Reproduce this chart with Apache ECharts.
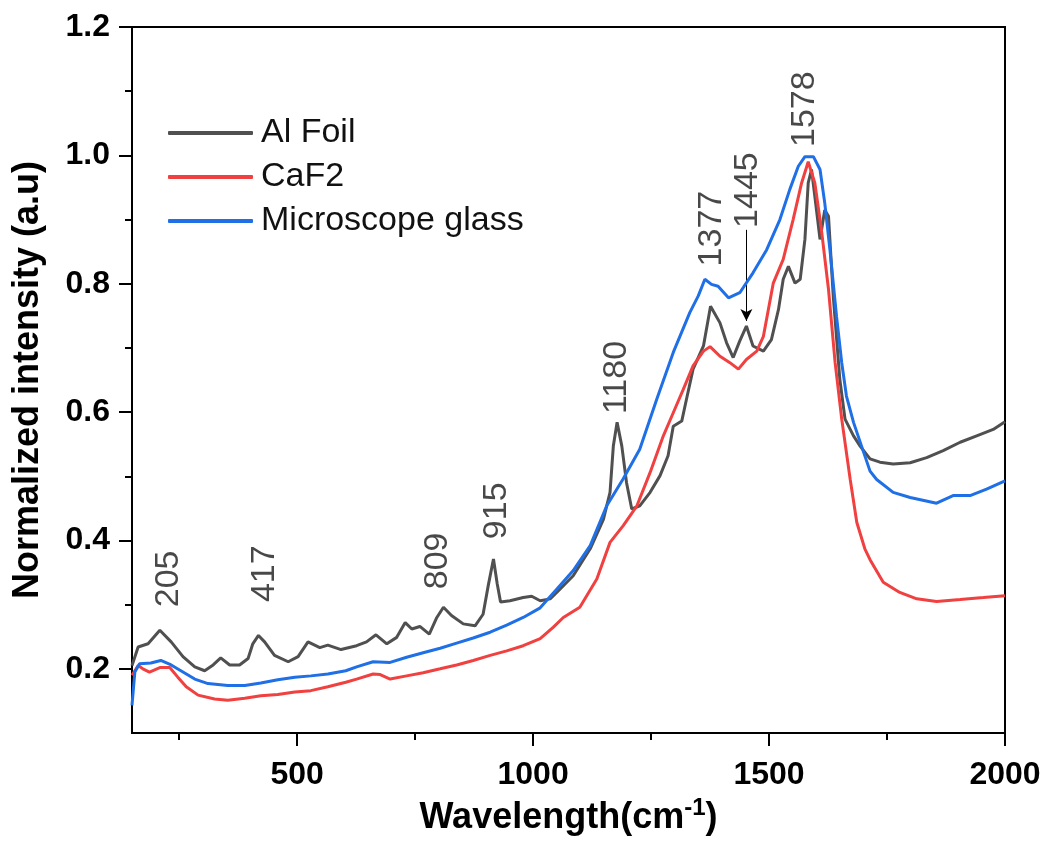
<!DOCTYPE html>
<html>
<head>
<meta charset="utf-8">
<title>Raman spectra</title>
<script src="https://cdn.jsdelivr.net/npm/echarts@6/dist/echarts.min.js"></script>
<style>
  html, body { margin: 0; padding: 0; background: #fff; }
  #chart { width: 1052px; height: 849px; }
</style>
</head>
<body>
<div id="chart"></div>
<script>
// values
var alFoilX = [150,163,184,209,233,258,283,304,322,338,357,378,396,406,418,431,452,481,502,523,548,565,593,626,647,667,690,711,729,743,760,780,796,810,827,852,877,894,905,916,924,931,951,979,997,1015,1036,1050,1085,1121,1149,1163,1170,1178,1188,1198,1209,1226,1248,1269,1286,1297,1315,1325,1339,1361,1376,1396,1410,1424,1438,1452,1466,1488,1505,1520,1530,1541,1555,1566,1576,1583,1590,1597,1608,1618,1626,1636,1650,1661,1679,1693,1714,1735,1763,1799,1834,1869,1905,1940,1975,2000];
var alFoilY = [0.205,0.234,0.239,0.260,0.242,0.219,0.203,0.197,0.206,0.217,0.206,0.206,0.216,0.239,0.252,0.242,0.221,0.211,0.219,0.242,0.233,0.237,0.230,0.236,0.242,0.253,0.239,0.249,0.272,0.262,0.266,0.254,0.280,0.296,0.283,0.270,0.267,0.285,0.330,0.371,0.332,0.304,0.306,0.311,0.313,0.306,0.309,0.319,0.345,0.387,0.433,0.475,0.547,0.584,0.547,0.490,0.449,0.454,0.475,0.501,0.532,0.578,0.586,0.620,0.667,0.703,0.765,0.739,0.708,0.685,0.711,0.734,0.703,0.695,0.713,0.760,0.807,0.827,0.801,0.807,0.869,0.957,0.978,0.936,0.869,0.915,0.905,0.781,0.651,0.589,0.563,0.547,0.527,0.522,0.519,0.521,0.529,0.540,0.553,0.563,0.573,0.585];

var caf2X = [150,163,173,187,209,230,247,265,290,325,353,389,423,459,495,529,565,603,626,661,676,697,732,767,803,838,873,909,944,979,1015,1043,1064,1099,1135,1163,1191,1220,1248,1276,1297,1318,1339,1361,1375,1396,1417,1435,1452,1474,1488,1509,1530,1551,1569,1583,1597,1611,1626,1640,1654,1672,1686,1703,1714,1742,1777,1813,1855,1905,1954,2000];
var caf2Y = [0.190,0.205,0.200,0.195,0.202,0.202,0.187,0.172,0.159,0.153,0.151,0.154,0.158,0.160,0.164,0.166,0.172,0.179,0.184,0.192,0.191,0.184,0.189,0.194,0.200,0.206,0.213,0.221,0.228,0.236,0.247,0.265,0.280,0.296,0.340,0.397,0.423,0.454,0.506,0.563,0.599,0.635,0.672,0.695,0.702,0.687,0.677,0.667,0.682,0.695,0.718,0.801,0.838,0.900,0.957,0.990,0.957,0.884,0.791,0.677,0.589,0.495,0.428,0.387,0.370,0.335,0.319,0.309,0.305,0.308,0.311,0.314];

var glassX = [150,156,166,190,211,233,258,283,311,353,389,423,459,495,529,565,603,626,661,697,732,767,803,838,873,909,944,979,1015,1050,1085,1121,1156,1191,1226,1262,1297,1332,1350,1364,1378,1392,1414,1438,1466,1495,1523,1544,1562,1576,1594,1608,1618,1629,1643,1654,1664,1679,1696,1714,1728,1763,1799,1855,1890,1926,1961,2000];
var glassY = [0.143,0.195,0.208,0.209,0.213,0.206,0.195,0.184,0.177,0.174,0.174,0.178,0.183,0.187,0.189,0.192,0.197,0.203,0.211,0.210,0.218,0.225,0.232,0.240,0.248,0.257,0.268,0.280,0.295,0.324,0.353,0.392,0.454,0.496,0.542,0.620,0.693,0.755,0.781,0.807,0.799,0.796,0.778,0.786,0.817,0.853,0.900,0.947,0.983,0.998,0.998,0.978,0.926,0.853,0.749,0.677,0.625,0.584,0.547,0.508,0.495,0.475,0.467,0.458,0.470,0.470,0.480,0.493];

// peak labels (text, anchor at the bottom of the rotated text)
var peakText = ['205','417','809','915','1180','1377','1445','1578'];
var peakX = [227,431,797,923,1176,1378,1454,1575];
var peakY = [0.296,0.304,0.324,0.402,0.597,0.827,0.887,1.013];

// arrow pointing at the 1445 band
var arrowX = 1452;
var arrowY = [0.884, 0.742];

var xMajor = [500,1000,1500,2000];
var xMinor = [250,750,1250,1750];
var yMajor = [0.2,0.4,0.6,0.8,1.0,1.2];
var yMinor = [0.3,0.5,0.7,0.9,1.1];

function pairs(xs, ys) {
    var out = [];
    for (var i = 0; i < xs.length; i++) out.push([xs[i], ys[i]]);
    return out;
}

var chart = echarts.init(document.getElementById('chart'));
var font = "'Liberation Sans', Arial, sans-serif";

var option = {
    animation: false,
    backgroundColor: '#fff',
    textStyle: { fontFamily: font },
    grid: {
        left: 132, right: 47, top: 27, bottom: 116,
        show: true, borderColor: '#000', borderWidth: 2
    },
    legend: {
        orient: 'vertical',
        left: 163, top: 111,
        itemWidth: 85, itemHeight: 4,
        itemGap: 10,
        icon: 'roundRect',
        textStyle: { fontSize: 34, color: '#111', fontFamily: font, padding: [0, 0, 0, 3] },
        data: ['Al Foil', 'CaF2', 'Microscope glass']
    },
    xAxis: [{
        type: 'value', min: 150, max: 2000,
        name: '{a|Wavelength(cm}{s|-1}{a|)}',
        nameLocation: 'middle', nameGap: 58,
        nameTextStyle: {
            rich: {
                a: { fontSize: 36, lineHeight: 44, fontWeight: 'bold', color: '#000', fontFamily: font },
                s: { fontSize: 24, lineHeight: 20, fontWeight: 'bold', color: '#000', fontFamily: font, verticalAlign: 'top' }
            }
        },
        axisLine: { show: true, lineStyle: { color: '#000', width: 2 } },
        axisTick: { show: true, inside: false, length: 13, customValues: xMajor, lineStyle: { color: '#000', width: 2 } },
        axisLabel: {
            customValues: xMajor, margin: 26, fontSize: 32, fontWeight: 'bold', color: '#000',
            formatter: function (v) { return String(v); }
        },
        splitLine: { show: false }
    }, {
        type: 'value', min: 150, max: 2000, position: 'bottom',
        axisLine: { show: false },
        axisTick: { show: true, length: 7, customValues: xMinor, lineStyle: { color: '#000', width: 2 } },
        axisLabel: { show: false },
        splitLine: { show: false }
    }],
    yAxis: [{
        type: 'value', min: 0.1, max: 1.2,
        name: 'Normalized intensity (a.u)',
        nameLocation: 'middle', nameGap: 86,
        nameTextStyle: { fontSize: 36, fontWeight: 'bold', color: '#000' },
        axisLine: { show: true, lineStyle: { color: '#000', width: 2 } },
        axisTick: { show: true, length: 13, customValues: yMajor, lineStyle: { color: '#000', width: 2 } },
        axisLabel: {
            customValues: yMajor, margin: 22, fontSize: 32, fontWeight: 'bold', color: '#000',
            formatter: function (v) { return v.toFixed(1); }
        },
        splitLine: { show: false }
    }, {
        type: 'value', min: 0.1, max: 1.2, position: 'left',
        axisLine: { show: false },
        axisTick: { show: true, length: 7, customValues: yMinor, lineStyle: { color: '#000', width: 2 } },
        axisLabel: { show: false },
        splitLine: { show: false }
    }],
    series: [{
        name: 'Al Foil', type: 'line', showSymbol: false, symbol: 'none',
        lineStyle: { color: '#505050', width: 3 }, itemStyle: { color: '#505050' },
        data: pairs(alFoilX, alFoilY), z: 3,
        markLine: {
            silent: true, symbol: ['none', 'arrow'], symbolSize: [9, 12],
            label: { show: false },
            lineStyle: { color: '#000', width: 1, type: 'solid' },
            data: [[{ coord: [arrowX, arrowY[0]] }, { coord: [arrowX, arrowY[1]] }]]
        }
    }, {
        name: 'CaF2', type: 'line', showSymbol: false, symbol: 'none',
        lineStyle: { color: '#f0403f', width: 3 }, itemStyle: { color: '#f0403f' },
        data: pairs(caf2X, caf2Y), z: 4
    }, {
        name: 'Microscope glass', type: 'line', showSymbol: false, symbol: 'none',
        lineStyle: { color: '#1f6fe6', width: 3 }, itemStyle: { color: '#1f6fe6' },
        data: pairs(glassX, glassY), z: 5
    }, {
        name: 'peaks', type: 'scatter', symbolSize: 0, silent: true,
        data: peakText.map(function (t, i) { return { name: t, value: [peakX[i], peakY[i]] }; }),
        label: {
            show: true, rotate: 90, position: [0, 0],
            align: 'left', verticalAlign: 'middle',
            formatter: '{b}', fontSize: 34, color: '#1a1a1a', fontFamily: font
        }
    }]
};

chart.setOption(option);
</script>
</body>
</html>
